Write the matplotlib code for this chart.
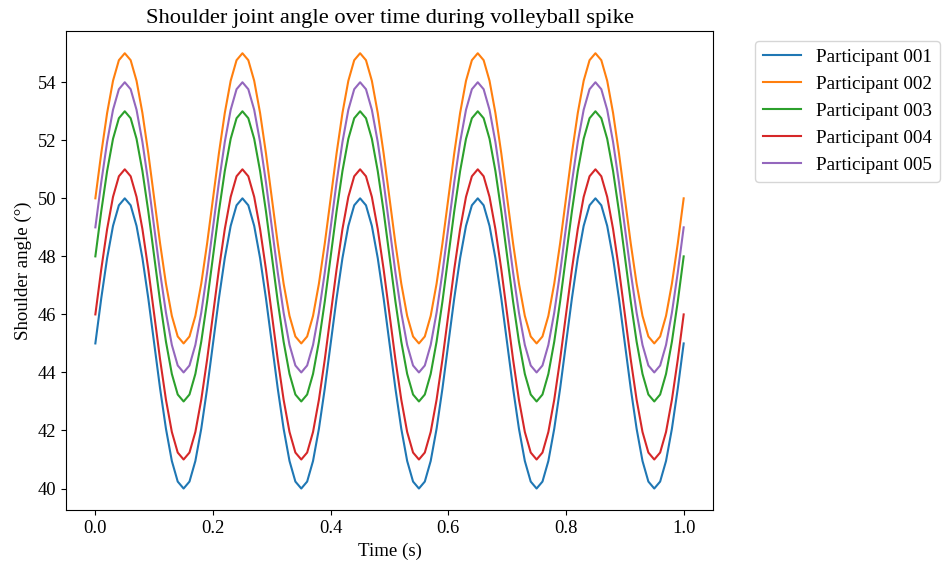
import numpy as np
import matplotlib.pyplot as plt

plt.rcParams['font.family'] = ['Liberation Serif', 'DejaVu Serif']

# tijd as: 0 .. 1 s, stap 0.01
tijd = np.linspace(0, 1, 101)

deelnemers = ['Participant 001', 'Participant 002', 'Participant 003',
              'Participant 004', 'Participant 005']

# Schouderhoek per deelnemer (graden)
p001 = [45.0, 46.55, 47.94, 49.05, 49.76, 50.0, 49.76, 49.05, 47.94, 46.55, 45.0, 43.45, 42.06, 40.95, 40.24, 40.0, 40.24, 40.95, 42.06, 43.45,
        45.0, 46.55, 47.94, 49.05, 49.76, 50.0, 49.76, 49.05, 47.94, 46.55, 45.0, 43.45, 42.06, 40.95, 40.24, 40.0, 40.24, 40.95, 42.06, 43.45,
        45.0, 46.55, 47.94, 49.05, 49.76, 50.0, 49.76, 49.05, 47.94, 46.55, 45.0, 43.45, 42.06, 40.95, 40.24, 40.0, 40.24, 40.95, 42.06, 43.45,
        45.0, 46.55, 47.94, 49.05, 49.76, 50.0, 49.76, 49.05, 47.94, 46.55, 45.0, 43.45, 42.06, 40.95, 40.24, 40.0, 40.24, 40.95, 42.06, 43.45,
        45.0, 46.55, 47.94, 49.05, 49.76, 50.0, 49.76, 49.05, 47.94, 46.55, 45.0, 43.45, 42.06, 40.95, 40.24, 40.0, 40.24, 40.95, 42.06, 43.45,
        45.0]
p002 = [50.0, 51.55, 52.94, 54.05, 54.76, 55.0, 54.76, 54.05, 52.94, 51.55, 50.0, 48.45, 47.06, 45.95, 45.24, 45.0, 45.24, 45.95, 47.06, 48.45,
        50.0, 51.55, 52.94, 54.05, 54.76, 55.0, 54.76, 54.05, 52.94, 51.55, 50.0, 48.45, 47.06, 45.95, 45.24, 45.0, 45.24, 45.95, 47.06, 48.45,
        50.0, 51.55, 52.94, 54.05, 54.76, 55.0, 54.76, 54.05, 52.94, 51.55, 50.0, 48.45, 47.06, 45.95, 45.24, 45.0, 45.24, 45.95, 47.06, 48.45,
        50.0, 51.55, 52.94, 54.05, 54.76, 55.0, 54.76, 54.05, 52.94, 51.55, 50.0, 48.45, 47.06, 45.95, 45.24, 45.0, 45.24, 45.95, 47.06, 48.45,
        50.0, 51.55, 52.94, 54.05, 54.76, 55.0, 54.76, 54.05, 52.94, 51.55, 50.0, 48.45, 47.06, 45.95, 45.24, 45.0, 45.24, 45.95, 47.06, 48.45,
        50.0]
p003 = [48.0, 49.55, 50.94, 52.05, 52.76, 53.0, 52.76, 52.05, 50.94, 49.55, 48.0, 46.45, 45.06, 43.95, 43.24, 43.0, 43.24, 43.95, 45.06, 46.45,
        48.0, 49.55, 50.94, 52.05, 52.76, 53.0, 52.76, 52.05, 50.94, 49.55, 48.0, 46.45, 45.06, 43.95, 43.24, 43.0, 43.24, 43.95, 45.06, 46.45,
        48.0, 49.55, 50.94, 52.05, 52.76, 53.0, 52.76, 52.05, 50.94, 49.55, 48.0, 46.45, 45.06, 43.95, 43.24, 43.0, 43.24, 43.95, 45.06, 46.45,
        48.0, 49.55, 50.94, 52.05, 52.76, 53.0, 52.76, 52.05, 50.94, 49.55, 48.0, 46.45, 45.06, 43.95, 43.24, 43.0, 43.24, 43.95, 45.06, 46.45,
        48.0, 49.55, 50.94, 52.05, 52.76, 53.0, 52.76, 52.05, 50.94, 49.55, 48.0, 46.45, 45.06, 43.95, 43.24, 43.0, 43.24, 43.95, 45.06, 46.45,
        48.0]
p004 = [46.0, 47.55, 48.94, 50.05, 50.76, 51.0, 50.76, 50.05, 48.94, 47.55, 46.0, 44.45, 43.06, 41.95, 41.24, 41.0, 41.24, 41.95, 43.06, 44.45,
        46.0, 47.55, 48.94, 50.05, 50.76, 51.0, 50.76, 50.05, 48.94, 47.55, 46.0, 44.45, 43.06, 41.95, 41.24, 41.0, 41.24, 41.95, 43.06, 44.45,
        46.0, 47.55, 48.94, 50.05, 50.76, 51.0, 50.76, 50.05, 48.94, 47.55, 46.0, 44.45, 43.06, 41.95, 41.24, 41.0, 41.24, 41.95, 43.06, 44.45,
        46.0, 47.55, 48.94, 50.05, 50.76, 51.0, 50.76, 50.05, 48.94, 47.55, 46.0, 44.45, 43.06, 41.95, 41.24, 41.0, 41.24, 41.95, 43.06, 44.45,
        46.0, 47.55, 48.94, 50.05, 50.76, 51.0, 50.76, 50.05, 48.94, 47.55, 46.0, 44.45, 43.06, 41.95, 41.24, 41.0, 41.24, 41.95, 43.06, 44.45,
        46.0]
p005 = [49.0, 50.55, 51.94, 53.05, 53.76, 54.0, 53.76, 53.05, 51.94, 50.55, 49.0, 47.45, 46.06, 44.95, 44.24, 44.0, 44.24, 44.95, 46.06, 47.45,
        49.0, 50.55, 51.94, 53.05, 53.76, 54.0, 53.76, 53.05, 51.94, 50.55, 49.0, 47.45, 46.06, 44.95, 44.24, 44.0, 44.24, 44.95, 46.06, 47.45,
        49.0, 50.55, 51.94, 53.05, 53.76, 54.0, 53.76, 53.05, 51.94, 50.55, 49.0, 47.45, 46.06, 44.95, 44.24, 44.0, 44.24, 44.95, 46.06, 47.45,
        49.0, 50.55, 51.94, 53.05, 53.76, 54.0, 53.76, 53.05, 51.94, 50.55, 49.0, 47.45, 46.06, 44.95, 44.24, 44.0, 44.24, 44.95, 46.06, 47.45,
        49.0, 50.55, 51.94, 53.05, 53.76, 54.0, 53.76, 53.05, 51.94, 50.55, 49.0, 47.45, 46.06, 44.95, 44.24, 44.0, 44.24, 44.95, 46.06, 47.45,
        49.0]

hoeken = [p001, p002, p003, p004, p005]

fig = plt.figure(figsize=(9.42, 5.62), dpi=100)
ax = fig.add_axes([0.070, 0.092, 0.687, 0.852])

for naam, waarden in zip(deelnemers, hoeken):
    ax.plot(tijd, waarden, label=naam, linewidth=1.5)

ax.set_title("Shoulder joint angle over time during volleyball spike", fontsize=16.2)
ax.set_xlabel("Time (s)", fontsize=13.6)
ax.set_ylabel("Shoulder angle (°)", fontsize=13.6)
ax.tick_params(labelsize=13.3)
ax.legend(bbox_to_anchor=(1.05, 1), loc='upper left', fontsize=13.8)

fig.savefig("out.png", dpi=100)
